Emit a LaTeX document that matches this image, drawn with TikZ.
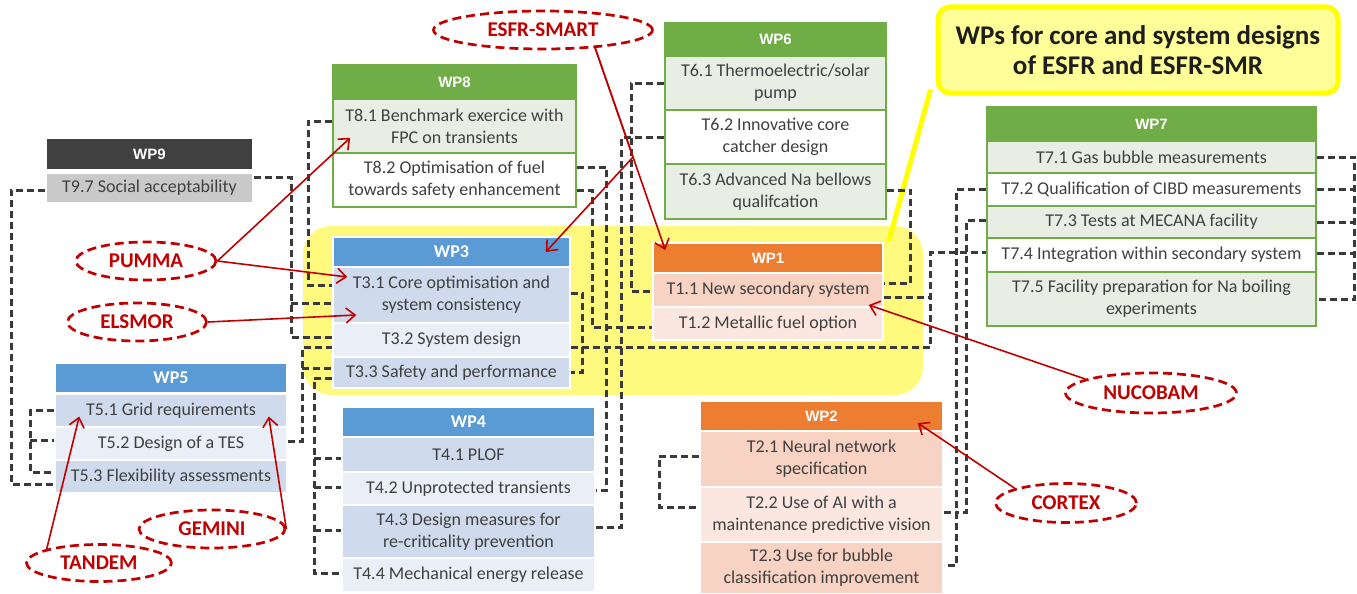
\documentclass[tikz,border=0pt]{standalone}
\usepackage{fontspec}
\setmainfont{Carlito}
\newfontfamily\arialf{Liberation Sans}
\usetikzlibrary{shapes.geometric,arrows.meta,calc}
\pgfdeclarelayer{bg}
\pgfsetlayers{bg,main}
\definecolor{tgray}{HTML}{404040}
\definecolor{hgreen}{HTML}{70AD47}
\definecolor{lgreen}{HTML}{E8EEE4}
\definecolor{hblue}{HTML}{5B9BD5}
\definecolor{bdark}{HTML}{CFDAEC}
\definecolor{blight}{HTML}{E9EEF7}
\definecolor{horange}{HTML}{ED7D31}
\definecolor{odark}{HTML}{F8D2C3}
\definecolor{olight}{HTML}{FBE7E0}
\definecolor{hdark}{HTML}{404040}
\definecolor{g97}{HTML}{C9C9C9}
\definecolor{cred}{HTML}{C00000}
\definecolor{hlyellow}{RGB}{255,250,125}
\definecolor{callfill}{RGB}{255,255,153}
\definecolor{callline}{RGB}{255,255,0}
\definecolor{dline}{HTML}{3A3A3A}
\definecolor{calltext}{RGB}{30,30,30}
\begin{document}
\begin{tikzpicture}[x=1pt,y=-1pt,
  cell/.style={draw=white, line width=1.5pt, text=tgray, align=center, inner sep=0pt,
    font=\fontsize{18}{22}\selectfont},
  gcell/.style={cell, draw=hgreen},
  hdA/.style={cell, text=white, font=\arialf\bfseries\fontsize{15}{17}\selectfont},
  hdC/.style={cell, text=white, font=\bfseries\fontsize{18}{20}\selectfont},
  hdG/.style={hdA, draw=hgreen, fill=hgreen},
  dcon/.style={draw=dline, line width=3pt, dash pattern=on 7pt off 4pt},
  rarr/.style={draw=cred, line width=1.6pt, -{Straight Barb[length=9pt,width=15pt]}},
  proj/.style={ellipse, draw=cred, line width=2.7pt, dash pattern=on 9pt off 5pt,
    text=cred, inner sep=0pt, font=\bfseries\fontsize{21}{24}\selectfont},
  callout/.style={draw=callline, line width=5pt, fill=callfill, rounded corners=12pt,
    text=calltext, align=center, inner sep=0pt,
    font=\bfseries\fontsize{27}{30}\selectfont},
  tailline/.style={draw=callline, line width=5pt}
]
\useasboundingbox (0,0) rectangle (1357,594);

% ---------- WP9
\begin{scope}[every node/.append style={minimum width=207pt}]
\node[hdA, fill=hdark, minimum height=31pt] (wp9) at (149.5,154) {WP9};
\node[cell, fill=g97, minimum height=30pt] (t97) at (149.5,188) {T9.7 Social acceptability};
\end{scope}

% ---------- WP8
\begin{scope}[every node/.append style={minimum width=243pt}]
\node[hdG, minimum height=34pt] (wp8) at (454.5,82) {WP8};
\node[gcell, fill=lgreen, minimum height=54pt] (t81) at (454.5,126) {T8.1 Benchmark exercice with\\FPC on transients};
\node[gcell, fill=white, minimum height=54pt] (t82) at (454.5,180) {T8.2 Optimisation of fuel\\towards safety enhancement};
\end{scope}

% ---------- WP6
\begin{scope}[every node/.append style={minimum width=221pt}]
\node[hdG, minimum height=33pt] (wp6) at (775.5,39.5) {WP6};
\node[gcell, fill=lgreen, minimum height=54pt] (t61) at (775.5,83) {T6.1 Thermoelectric/solar\\pump};
\node[gcell, fill=white, minimum height=54pt] (t62) at (775.5,137) {T6.2 Innovative core\\catcher design};
\node[gcell, fill=lgreen, minimum height=55pt] (t63) at (775.5,191.5) {T6.3 Advanced Na bellows\\qualifcation};
\end{scope}

% ---------- WP7
\begin{scope}[every node/.append style={minimum width=329pt}]
\node[hdG, minimum height=34pt] (wp7) at (1151.5,124) {WP7};
\node[gcell, fill=lgreen, minimum height=32pt] (t71) at (1151.5,157) {T7.1 Gas bubble measurements};
\node[gcell, fill=white, minimum height=33pt] (t72) at (1151.5,189.5) {T7.2 Qualification of CIBD measurements};
\node[gcell, fill=lgreen, minimum height=32pt] (t73) at (1151.5,222) {T7.3 Tests at MECANA facility};
\node[gcell, fill=white, minimum height=34pt] (t74) at (1151.5,255) {T7.4 Integration within secondary system};
\node[gcell, fill=lgreen, minimum height=54pt] (t75) at (1151.5,299) {T7.5 Facility preparation for Na boiling\\experiments};
\end{scope}

% ---------- WP3
\begin{scope}[every node/.append style={minimum width=237pt}]
\node[hdC, fill=hblue, minimum height=30pt] (wp3) at (451.5,252) {WP3};
\node[cell, fill=bdark, minimum height=56pt] (t31) at (451.5,295) {T3.1 Core optimisation and\\system consistency};
\node[cell, fill=blight, minimum height=34pt] (t32) at (451.5,340) {T3.2 System design};
\node[cell, fill=bdark, minimum height=31pt] (t33) at (451.5,372.5) {T3.3 Safety and performance};
\end{scope}

% ---------- WP1
\begin{scope}[every node/.append style={minimum width=230pt}]
\node[hdA, fill=horange, minimum height=30pt] (wp1) at (768,258) {WP1};
\node[cell, fill=odark, minimum height=34pt] (t11) at (768,290) {T1.1 New secondary system};
\node[cell, fill=olight, minimum height=33pt] (t12) at (768,323.5) {T1.2 Metallic fuel option};
\end{scope}

% ---------- WP5
\begin{scope}[every node/.append style={minimum width=232pt}]
\node[hdC, fill=hblue, minimum height=30pt] (wp5) at (171,378) {WP5};
\node[cell, fill=bdark, minimum height=33pt] (t51) at (171,410.5) {T5.1 Grid requirements};
\node[cell, fill=blight, minimum height=33pt] (t52) at (171,443.5) {T5.2 Design of a TES};
\node[cell, fill=bdark, minimum height=33pt] (t53) at (171,476.5) {T5.3 Flexibility assessments};
\end{scope}

% ---------- WP4
\begin{scope}[every node/.append style={minimum width=253pt}]
\node[hdC, fill=hblue, minimum height=30pt] (wp4) at (468.5,422) {WP4};
\node[cell, fill=bdark, minimum height=35pt] (t41) at (468.5,454.5) {T4.1 PLOF};
\node[cell, fill=blight, minimum height=33pt] (t42) at (468.5,488.5) {T4.2 Unprotected transients};
\node[cell, fill=bdark, minimum height=53pt] (t43) at (468.5,531.5) {T4.3 Design measures for\\re-criticality prevention};
\node[cell, fill=blight, minimum height=34pt] (t44) at (468.5,575) {T4.4 Mechanical energy release};
\end{scope}

% ---------- WP2
\begin{scope}[every node/.append style={minimum width=243pt}]
\node[hdA, fill=horange, minimum height=30pt] (wp2) at (821.5,416) {WP2};
\node[cell, fill=odark, minimum height=56pt] (t21) at (821.5,459) {T2.1 Neural network\\specification};
\node[cell, fill=olight, minimum height=55pt] (t22) at (821.5,514.5) {T2.2 Use of AI with a\\maintenance predictive vision};
\node[cell, fill=odark, minimum height=52pt] (t23) at (821.5,568) {T2.3 Use for bubble\\classification improvement};
\end{scope}

% ---------- callout
\node[callout, minimum width=400pt, minimum height=86pt] (note) at (1138,50)
  {WPs for core and system designs\\of ESFR and ESFR-SMR};

% ---------- project ellipses
\node[proj, minimum width=219pt, minimum height=38pt] (esfr) at (543,30) {ESFR-SMART};
\node[proj, minimum width=140pt, minimum height=38pt] (pumma) at (146,261) {PUMMA};
\node[proj, minimum width=139pt, minimum height=38pt] (elsmor) at (137,322) {ELSMOR};
\node[proj, minimum width=145pt, minimum height=37pt] (tandem) at (99,563) {TANDEM};
\node[proj, minimum width=146pt, minimum height=38pt] (gemini) at (212,529) {GEMINI};
\node[proj, minimum width=171pt, minimum height=40pt] (nucobam) at (1151,393) {NUCOBAM};
\node[proj, minimum width=141pt, minimum height=39pt] (cortex) at (1066,503) {CORTEX};

% ---------- background: highlight, tail, dashed links
\begin{pgfonlayer}{bg}
\fill[hlyellow, rounded corners=28pt] (303,226) rectangle (923,395);
\draw[tailline] ([shift={(-5,-6)}]note.south west) -- ([shift={(5,-1)}]wp1.north east);

\draw[dcon] ([yshift=11pt]t97.east) -| ([xshift=-41pt,yshift=3pt]t32.west) -- ([yshift=3pt]t32.west);
\draw[dcon] ([xshift=-41pt,yshift=-8pt]t31.west) -- ([yshift=-8pt]t31.west);

\draw[dcon] ([yshift=5pt]t81.west) -| ([xshift=-24pt,yshift=10pt]t31.west) -- ([yshift=10pt]t31.west);

\draw[dcon] ([yshift=2.5pt]t52.east) -| ([xshift=-30pt,yshift=-7pt]t32.west) -- ([yshift=-7pt]t32.west);
\draw[dcon] ([xshift=-30pt,yshift=4.5pt]t33.west) -- ([yshift=4.5pt]t33.west);

\draw[dcon] ([yshift=-5.5pt]t33.west) -| ([xshift=-27pt,yshift=2pt]t44.west) -- ([yshift=2pt]t44.west);
\draw[dcon] ([xshift=-27pt,yshift=-3.5pt]t41.west) -- ([yshift=-3.5pt]t41.west);
\draw[dcon] ([xshift=-27pt,yshift=1.5pt]t42.west) -- ([yshift=1.5pt]t42.west);
\draw[dcon] ([xshift=-27pt,yshift=1.5pt]t43.west) -- ([yshift=1.5pt]t43.west);

\draw[dcon] ([yshift=-2pt]t97.west) -| ([xshift=-43pt,yshift=-7.5pt]t53.west) -- ([yshift=-7.5pt]t53.west);

\draw[dcon] (t51.west) -| ([xshift=-24pt,yshift=4.5pt]t53.west) -- ([yshift=4.5pt]t53.west);
\draw[dcon] ([xshift=-24pt,yshift=3.5pt]t52.west) -- ([yshift=3.5pt]t52.west);

\draw[dcon] ([yshift=13pt]t82.east) -| ([xshift=11pt,yshift=-1.5pt]t42.east) -- ([yshift=-1.5pt]t42.east);
\draw[dcon] ([yshift=-10pt]t82.east) -| ([xshift=-60pt,yshift=-3.5pt]t12.west) -- ([yshift=-3.5pt]t12.west);

\draw[dcon] (t61.west) -| ([xshift=-21pt,yshift=-1pt]t11.west) -- ([yshift=-1pt]t11.west);
\draw[dcon] (t62.west) -| ([xshift=26pt,yshift=4.5pt]t43.east) -- ([yshift=4.5pt]t43.east);
\draw[dcon] ([yshift=1.5pt]t63.east) -| ([xshift=27pt,yshift=7pt]t11.east) -- ([yshift=7pt]t11.east);

\draw[dcon] ([yshift=2pt]t31.east) -| ([xshift=12pt]t33.east) -- (t33.east);

\draw[dcon] ([yshift=-7pt]t32.east) -| ([xshift=-56pt,yshift=3pt]t74.west) -- ([yshift=3pt]t74.west);
\draw[dcon] ([yshift=-7pt]t11.east) -- ([xshift=48pt,yshift=-7pt]t11.east);

\draw[dcon] (t72.west) -| ([xshift=13pt,yshift=3pt]t23.east) -- ([yshift=3pt]t23.east);
\draw[dcon] ([yshift=2.5pt]t22.east) -- ([xshift=13pt,yshift=2.5pt]t22.east);
\draw[dcon] ([yshift=2pt]t73.west) -| ([xshift=23pt,yshift=2.5pt]t22.east) -- ([xshift=13pt,yshift=2.5pt]t22.east);

\draw[dcon] (t71.east) -| ([xshift=38pt]t75.east) -- (t75.east);
\draw[dcon] (t72.east) -- ([xshift=38pt]t72.east);
\draw[dcon] (t73.east) -- ([xshift=38pt]t73.east);
\draw[dcon] ([yshift=2pt]t74.east) -- ([xshift=38pt,yshift=2pt]t74.east);

\draw[dcon] ([yshift=3pt]t21.west) -| ([xshift=-40pt,yshift=7.5pt]t22.west) -- ([yshift=7.5pt]t22.west);
\end{pgfonlayer}

% ---------- red arrows
\coordinate (wp1tip) at ([shift={(13,-8)}]wp1.west);
\coordinate (bend) at ($(esfr.-19)!0.54!(wp1tip)$);
\draw[rarr] (pumma.east) -- ([shift={(18,-16)}]t81.south west);
\draw[rarr] (pumma.east) -- ([shift={(15,-18)}]t31.west);
\draw[rarr] (elsmor.east) -- ([shift={(24,20)}]t31.west);
\draw[rarr] (esfr.-19) -- (wp1tip);
\draw[rarr] (esfr.-19) -- (bend) -- ([shift={(-25,0)}]wp3.east);
\draw[rarr] (nucobam.168) -- ([shift={(-15,15)}]t11.east);
\draw[rarr] (cortex.164) -- ([shift={(-26,7)}]wp2.east);
\draw[rarr] (tandem.165) -- ([shift={(25,6)}]t51.west);
\draw[rarr] (gemini.east) -- ([shift={(-19,6)}]t51.east);
\end{tikzpicture}
\end{document}
